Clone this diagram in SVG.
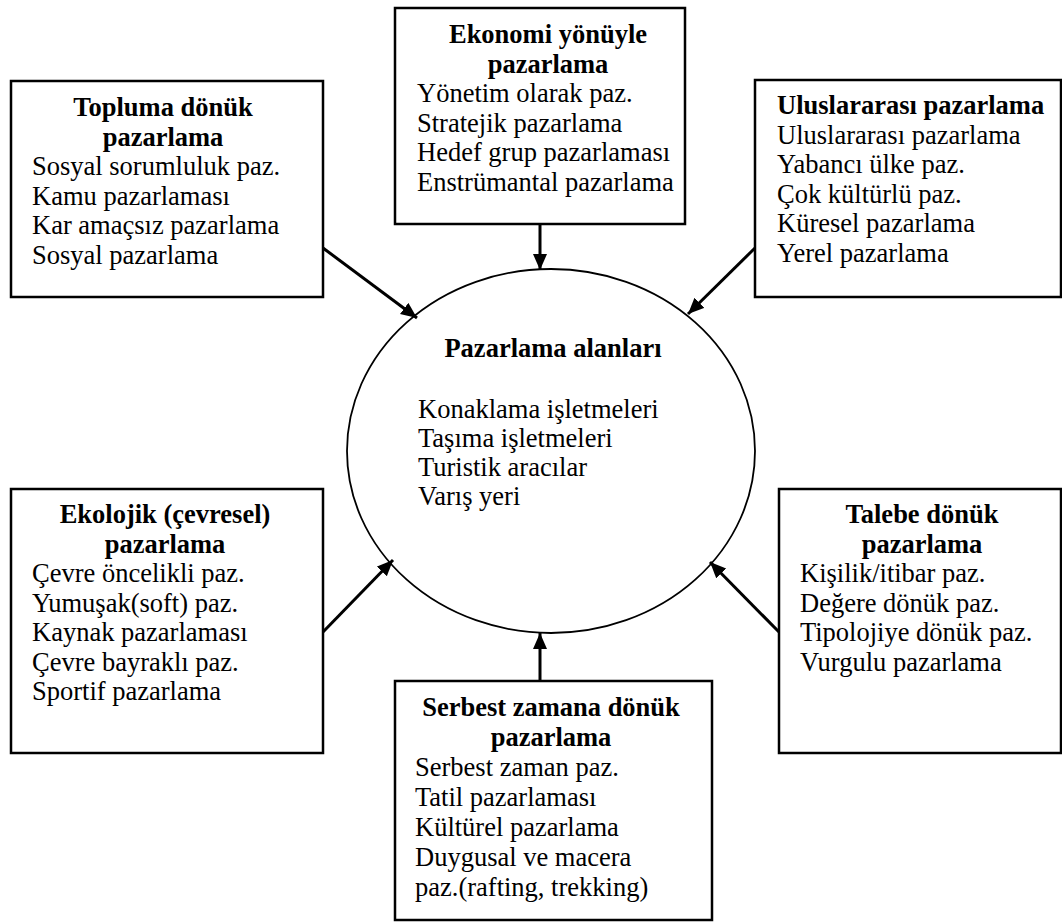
<svg xmlns="http://www.w3.org/2000/svg" width="1062" height="922" viewBox="0 0 1062 922">
<style>
.box{fill:#fff;stroke:#000;stroke-width:2.5}
.h{font-family:"Liberation Serif","Times New Roman",serif;font-size:26.5px;font-weight:bold;fill:#000;text-anchor:middle}
.t{font-family:"Liberation Serif","Times New Roman",serif;font-size:26.5px;fill:#000}
.c{stroke:#000;stroke-width:3;fill:none;marker-end:url(#ah)}
</style>
<defs>
<marker id="ah" markerUnits="userSpaceOnUse" markerWidth="18" markerHeight="16" refX="16" refY="7" orient="auto">
<path d="M0,0 L16,7 L0,14 Z" fill="#000"/>
</marker>
</defs>
<rect width="1062" height="922" fill="#fff"/>
<g id="connectors">
<line class="c" x1="540" y1="224" x2="540" y2="270"/>
<line class="c" x1="323" y1="248" x2="417" y2="318"/>
<line class="c" x1="755" y1="248" x2="688" y2="314"/>
<line class="c" x1="323" y1="632" x2="393" y2="560"/>
<line class="c" x1="779" y1="632" x2="710" y2="562"/>
<line class="c" x1="540" y1="681" x2="540" y2="633"/>
</g>
<g id="center">
<ellipse cx="551" cy="451" rx="204" ry="182" fill="none" stroke="#000" stroke-width="1.8"/>
<text class="h" x="553" y="357">Pazarlama alanları</text>
<text class="t" x="418" y="418">Konaklama işletmeleri</text>
<text class="t" x="418" y="447">Taşıma işletmeleri</text>
<text class="t" x="418" y="476">Turistik aracılar</text>
<text class="t" x="418" y="505">Varış yeri</text>
</g>
<g id="topluma">
<rect class="box" x="11" y="81" width="312" height="216"/>
<text class="h" x="163" y="116">Topluma dönük</text>
<text class="h" x="163" y="145.5">pazarlama</text>
<text class="t" x="32" y="175">Sosyal sorumluluk paz.</text>
<text class="t" x="32" y="204.5">Kamu pazarlaması</text>
<text class="t" x="32" y="234">Kar amaçsız pazarlama</text>
<text class="t" x="32" y="263.5">Sosyal pazarlama</text>
</g>
<g id="ekonomi">
<rect class="box" x="395" y="8" width="290" height="216"/>
<text class="h" x="548" y="43">Ekonomi yönüyle</text>
<text class="h" x="548" y="72.5">pazarlama</text>
<text class="t" x="417" y="102">Yönetim olarak paz.</text>
<text class="t" x="417" y="131.5">Stratejik pazarlama</text>
<text class="t" x="417" y="161">Hedef grup pazarlaması</text>
<text class="t" x="417" y="190.5">Enstrümantal pazarlama</text>
</g>
<g id="uluslararasi">
<rect class="box" x="755" y="80" width="306" height="217"/>
<text class="h" x="777" y="114" style="text-anchor:start">Uluslararası pazarlama</text>
<text class="t" x="777" y="143.5">Uluslararası pazarlama</text>
<text class="t" x="777" y="173">Yabancı ülke paz.</text>
<text class="t" x="777" y="202.5">Çok kültürlü paz.</text>
<text class="t" x="777" y="232">Küresel pazarlama</text>
<text class="t" x="777" y="261.5">Yerel pazarlama</text>
</g>
<g id="ekolojik">
<rect class="box" x="11" y="489" width="312" height="264"/>
<text class="h" x="165" y="523">Ekolojik (çevresel)</text>
<text class="h" x="165" y="552.5">pazarlama</text>
<text class="t" x="32" y="582">Çevre öncelikli paz.</text>
<text class="t" x="32" y="611.5">Yumuşak(soft) paz.</text>
<text class="t" x="32" y="641">Kaynak pazarlaması</text>
<text class="t" x="32" y="670.5">Çevre bayraklı paz.</text>
<text class="t" x="32" y="700">Sportif pazarlama</text>
</g>
<g id="talebe">
<rect class="box" x="779" y="489" width="282" height="264"/>
<text class="h" x="922" y="523">Talebe dönük</text>
<text class="h" x="922" y="552.5">pazarlama</text>
<text class="t" x="800" y="582">Kişilik/itibar paz.</text>
<text class="t" x="800" y="611.5">Değere dönük paz.</text>
<text class="t" x="800" y="641">Tipolojiye dönük paz.</text>
<text class="t" x="800" y="670.5">Vurgulu pazarlama</text>
</g>
<g id="serbest">
<rect class="box" x="395" y="681" width="317" height="239"/>
<text class="h" x="551" y="716">Serbest zamana dönük</text>
<text class="h" x="551" y="746">pazarlama</text>
<text class="t" x="415" y="776">Serbest zaman paz.</text>
<text class="t" x="415" y="806">Tatil pazarlaması</text>
<text class="t" x="415" y="836">Kültürel pazarlama</text>
<text class="t" x="415" y="866">Duygusal ve macera</text>
<text class="t" x="415" y="896">paz.(rafting, trekking)</text>
</g>
</svg>
